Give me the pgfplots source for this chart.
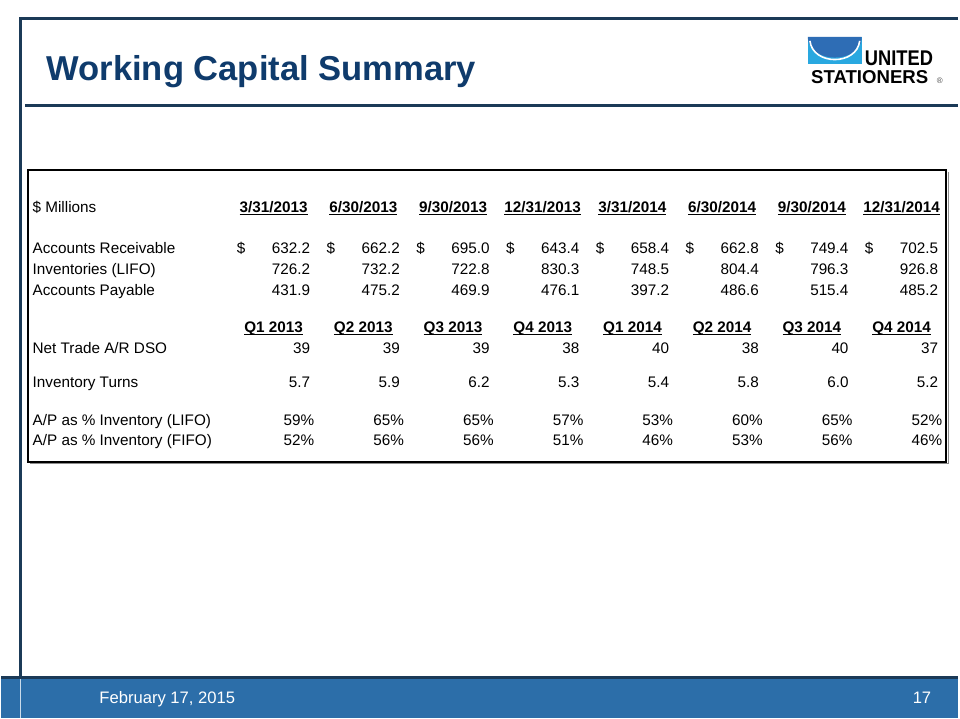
\documentclass[border=0pt]{standalone}
\usepackage{fontspec}
\setmainfont{Liberation Sans}
\usepackage{graphicx}
\usepackage{pgfplots}
\pgfplotsset{compat=1.18}
\definecolor{navy}{HTML}{1B3A57}
\definecolor{titleblue}{HTML}{0F3B6C}
\definecolor{footblue}{HTML}{2C6EA9}
\definecolor{logocyan}{HTML}{29A8E0}
\definecolor{logoblue}{HTML}{2E6DB5}
\newcommand{\tabfont}{\fontsize{11.5pt}{13pt}\selectfont}
\newcommand{\ulx}[1]{\setbox0\hbox{#1}\rlap{\rule[-1.7pt]{\wd0}{0.8pt}}\box0}
\begin{document}
\begin{tikzpicture}
\begin{axis}[
  width=720pt, height=540pt, scale only axis,
  xmin=0, xmax=960, ymin=0, ymax=720, y dir=reverse,
  hide axis, clip=false,
  every node near coord/.append style={inner sep=0pt, font=\tabfont, text=black},
]
% background and slide frame
\fill[white] (axis cs:0,0) rectangle (axis cs:960,720);
\fill[footblue] (axis cs:0,680) rectangle (axis cs:960,720);
\draw[navy, line width=2.2pt] (axis cs:0,680) -- (axis cs:960,680);
\draw[navy, line width=2.2pt] (axis cs:18,19) -- (axis cs:960,19);
\draw[navy, line width=2.2pt] (axis cs:19,18) -- (axis cs:19,679);
\draw[white!75!footblue, line width=1pt] (axis cs:19,681) -- (axis cs:19,720);
\draw[navy, line width=2.4pt] (axis cs:24,106) -- (axis cs:960,106);
% title
\node[anchor=base west, text=titleblue, inner sep=0pt,
      font=\fontsize{26pt}{28pt}\selectfont\bfseries] at (axis cs:45,81) {Working Capital Summary};
% logo
\fill[logocyan] (axis cs:809,37) rectangle (axis cs:863,64);
\fill[logoblue] (axis cs:809,37) -- (axis cs:863,37) -- (axis cs:863,39)
   .. controls (axis cs:860,64) and (axis cs:812,64) .. (axis cs:809,39) -- cycle;
\draw[white, line width=1.2pt] (axis cs:811,41) .. controls (axis cs:814,66) and (axis cs:858,66) .. (axis cs:861,41);
\node[anchor=base west, inner sep=0pt, font=\fontsize{16pt}{16pt}\selectfont\bfseries] at (axis cs:866,66) {\scalebox{0.86}[1]{UNITED}};
\node[anchor=base west, inner sep=0pt, font=\fontsize{14pt}{14pt}\selectfont\bfseries] at (axis cs:812,84) {\scalebox{1.0}[1]{STATIONERS}};
\node[anchor=base west, inner sep=0pt, font=\fontsize{6pt}{7pt}\selectfont, text=black!70] at (axis cs:938,84) {®};
% table frame
\draw[black, line width=1.5pt] (axis cs:27,171) rectangle (axis cs:948,463);
\draw[black!45, line width=0.6pt] (axis cs:949.5,173) -- (axis cs:949.5,464.5) -- (axis cs:29,464.5);
% row labels
\addplot[only marks, mark=none, point meta=explicit symbolic, nodes near coords,
  every node near coord/.append style={anchor=base west}]
  table[col sep=comma, row sep=\\, meta=t] {
x,y,t\\
31,213,\$ Millions\\
31,254,Accounts Receivable\\
31,275,Inventories (LIFO)\\
31,296,Accounts Payable\\
31,355,Net Trade A/R DSO\\
31,389,Inventory Turns\\
31,427,A/P as \% Inventory (LIFO)\\
31,447,A/P as \% Inventory (FIFO)\\
};
% date headers
\addplot[only marks, mark=none, point meta=explicit symbolic, nodes near coords={\ulx{\pgfplotspointmeta}},
  every node near coord/.append style={anchor=base, font=\tabfont\bfseries}]
  table[col sep=comma, row sep=\\, meta=t] {
x,y,t\\
273,213,3/31/2013\\
363,213,6/30/2013\\
453,213,9/30/2013\\
543,213,12/31/2013\\
633,213,3/31/2014\\
723,213,6/30/2014\\
813,213,9/30/2014\\
903,213,12/31/2014\\
};
% quarter headers
\addplot[only marks, mark=none, point meta=explicit symbolic, nodes near coords={\ulx{\pgfplotspointmeta}},
  every node near coord/.append style={anchor=base, font=\tabfont\bfseries}]
  table[col sep=comma, row sep=\\, meta=t] {
x,y,t\\
273,334,Q1 2013\\
363,334,Q2 2013\\
453,334,Q3 2013\\
543,334,Q4 2013\\
633,334,Q1 2014\\
723,334,Q2 2014\\
813,334,Q3 2014\\
903,334,Q4 2014\\
};
% dollar signs
\addplot[only marks, mark=none, nodes near coords={\$},
  every node near coord/.append style={anchor=base west}]
  table[col sep=comma, row sep=\\] {
x,y\\
236,254\\ 326,254\\ 416,254\\ 506,254\\ 596,254\\ 686,254\\ 776,254\\ 866,254\\
};
% accounts receivable
\addplot[only marks, mark=none, point meta=explicit symbolic, nodes near coords,
  every node near coord/.append style={anchor=base east}]
  table[col sep=comma, row sep=\\, meta=t] {
x,y,t\\
310,254,632.2\\ 400,254,662.2\\ 490,254,695.0\\ 580,254,643.4\\
670,254,658.4\\ 760,254,662.8\\ 850,254,749.4\\ 940,254,702.5\\
};
% inventories
\addplot[only marks, mark=none, point meta=explicit symbolic, nodes near coords,
  every node near coord/.append style={anchor=base east}]
  table[col sep=comma, row sep=\\, meta=t] {
x,y,t\\
310,275,726.2\\ 400,275,732.2\\ 490,275,722.8\\ 580,275,830.3\\
670,275,748.5\\ 760,275,804.4\\ 850,275,796.3\\ 940,275,926.8\\
};
% accounts payable
\addplot[only marks, mark=none, point meta=explicit symbolic, nodes near coords,
  every node near coord/.append style={anchor=base east}]
  table[col sep=comma, row sep=\\, meta=t] {
x,y,t\\
310,296,431.9\\ 400,296,475.2\\ 490,296,469.9\\ 580,296,476.1\\
670,296,397.2\\ 760,296,486.6\\ 850,296,515.4\\ 940,296,485.2\\
};
% DSO
\addplot[only marks, mark=none, point meta=explicit symbolic, nodes near coords,
  every node near coord/.append style={anchor=base east}]
  table[col sep=comma, row sep=\\, meta=t] {
x,y,t\\
310,355,39\\ 400,355,39\\ 490,355,39\\ 580,355,38\\
670,355,40\\ 760,355,38\\ 850,355,40\\ 940,355,37\\
};
% inventory turns
\addplot[only marks, mark=none, point meta=explicit symbolic, nodes near coords,
  every node near coord/.append style={anchor=base east}]
  table[col sep=comma, row sep=\\, meta=t] {
x,y,t\\
310,389,5.7\\ 400,389,5.9\\ 490,389,6.2\\ 580,389,5.3\\
670,389,5.4\\ 760,389,5.8\\ 850,389,6.0\\ 940,389,5.2\\
};
% A/P as % inventory (LIFO)
\addplot[only marks, mark=none, point meta=explicit symbolic, nodes near coords={\pgfplotspointmeta\%},
  every node near coord/.append style={anchor=base east}]
  table[col sep=comma, row sep=\\, meta=t] {
x,y,t\\
314,427,59\\ 404,427,65\\ 494,427,65\\ 584,427,57\\
674,427,53\\ 764,427,60\\ 854,427,65\\ 944,427,52\\
};
% A/P as % inventory (FIFO)
\addplot[only marks, mark=none, point meta=explicit symbolic, nodes near coords={\pgfplotspointmeta\%},
  every node near coord/.append style={anchor=base east}]
  table[col sep=comma, row sep=\\, meta=t] {
x,y,t\\
314,447,52\\ 404,447,56\\ 494,447,56\\ 584,447,51\\
674,447,46\\ 764,447,53\\ 854,447,56\\ 944,447,46\\
};
% footer text
\node[anchor=base west, inner sep=0pt, text=white, font=\fontsize{12.5pt}{14pt}\selectfont] at (axis cs:98,706) {February 17, 2015};
\node[anchor=base east, inner sep=0pt, text=white, font=\fontsize{12.5pt}{14pt}\selectfont] at (axis cs:933,706) {17};
\end{axis}
\end{tikzpicture}
\end{document}
